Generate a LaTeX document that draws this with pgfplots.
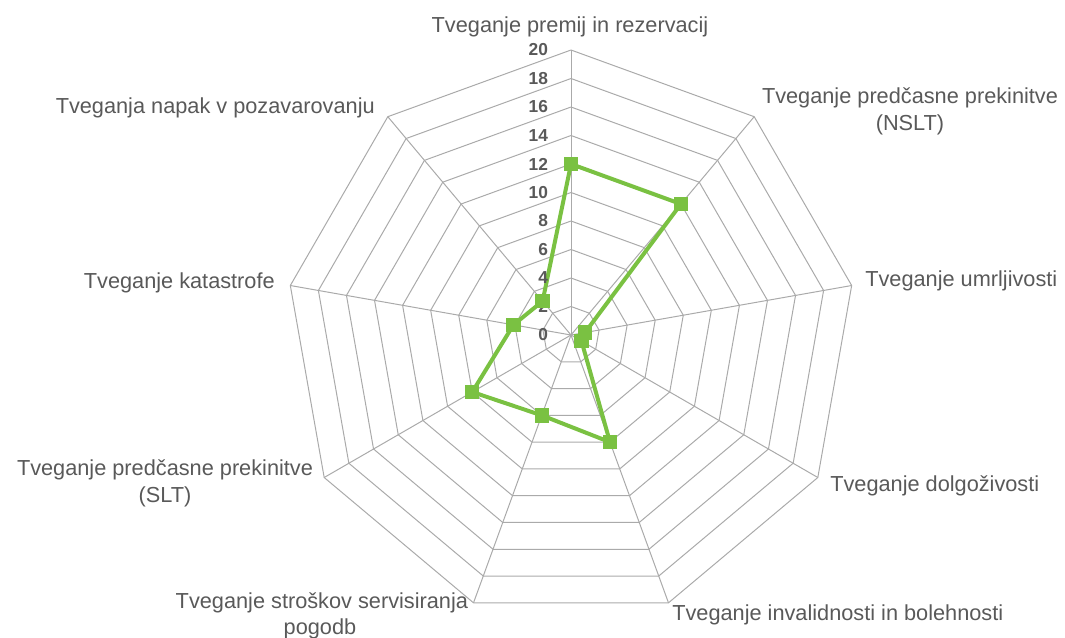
\documentclass[border=0pt]{standalone}
\usepackage{pgfplots}
\pgfplotsset{compat=1.18}
\usepackage{fontspec}
\setmainfont{Liberation Sans}
\definecolor{txt}{RGB}{89,89,89}
\definecolor{gridc}{RGB}{170,170,170}
\definecolor{ser}{RGB}{122,193,66}
\begin{document}
\begin{tikzpicture}[x=0.75pt,y=-0.75pt]
\useasboundingbox (0,0) rectangle (1065,637);
\begin{axis}[at={(428.25pt,-251.25pt)}, anchor=center,
  width=427.5pt, height=427.5pt, scale only axis,
  xmin=-20, xmax=20, ymin=-20, ymax=20, hide axis, clip=false]
% grid polygons
\pgfplotsinvokeforeach{2,4,...,20}{
  \addplot[gridc, line width=0.75pt, data cs=polar, forget plot] coordinates {(90,#1) (50,#1) (10,#1) (-30,#1) (-70,#1) (-110,#1) (-150,#1) (170,#1) (130,#1) (90,#1)};
}
% spokes
\pgfplotsinvokeforeach{90,50,10,-30,-70,-110,-150,170,130}{
  \addplot[gridc, line width=0.75pt, data cs=polar, forget plot] coordinates {(#1,0) (#1,20)};
}
% data series
\addplot[ser, line width=3pt, mark=square*, mark size=5pt, mark options={solid, fill=ser, draw=ser, line width=0pt}, data cs=polar]
coordinates {(90,12) (50,12) (10,1.0) (-30,0.85) (-70,8) (-110,6) (-150,8) (170,4.1) (130,3.1) (90,12)};
% radial tick labels
\pgfplotsinvokeforeach{0,2,...,20}{
  \node[anchor=east, text=txt, font=\fontsize{13pt}{15pt}\selectfont\bfseries, inner sep=0pt] at (axis cs:-1.6,#1) {#1};
}
\end{axis}
\begin{scope}[every node/.style={text=txt, font=\fontsize{16.3pt}{20pt}\selectfont, inner sep=0pt}]
\node[anchor=base] at (570,32.5) {Tveganje premij in rezervacij};
\node[anchor=base] at (910,103.3) {Tveganje predčasne prekinitve};
\node[anchor=base] at (910,130.5) {(NSLT)};
\node[anchor=base west] at (865,286.5) {Tveganje umrljivosti};
\node[anchor=base west] at (830,491.7) {Tveganje dolgoživosti};
\node[anchor=base west] at (672,620.7) {Tveganje invalidnosti in bolehnosti};
\node[anchor=base east] at (468.3,608.3) {Tveganje stroškov servisiranja};
\node[anchor=base] at (320,634.5) {pogodb};
\node[anchor=base] at (165,475) {Tveganje predčasne prekinitve};
\node[anchor=base] at (165,502) {(SLT)};
\node[anchor=base east] at (275,288.3) {Tveganje katastrofe};
\node[anchor=base east] at (375,113.3) {Tveganja napak v pozavarovanju};
\end{scope}
\end{tikzpicture}
\end{document}
